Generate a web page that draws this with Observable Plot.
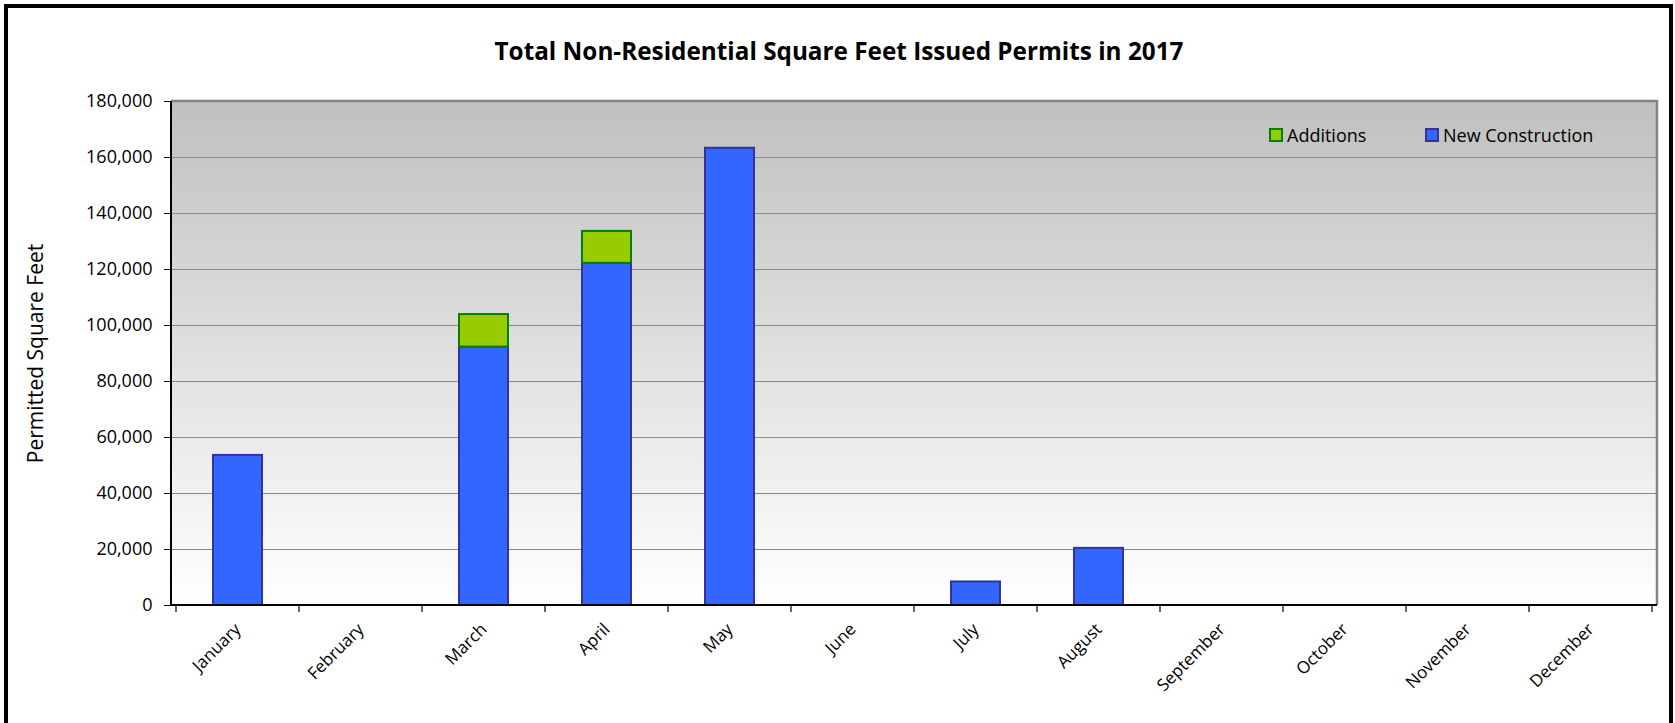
<!DOCTYPE html>
<html>
<head>
<meta charset="utf-8">
<script src="https://cdn.jsdelivr.net/npm/d3@7"></script>
<script src="https://cdn.jsdelivr.net/npm/@observablehq/plot@0.6"></script>
<style>
  html, body { margin: 0; padding: 0; background: #fff; }
  #wrap { position: relative; width: 1675px; height: 723px; overflow: hidden; font-family: "Open Sans", sans-serif; }
  #border { position: absolute; left: 4px; top: 4px; width: 1661px; height: 800px; border: 4px solid #000; pointer-events: none; }
  #title { position: absolute; left: 339px; width: 1000px; top: 35px; text-align: center; font-weight: bold; font-size: 24.3px; line-height: 32px; color: #000; }
  #legend { position: absolute; top: 123px; left: 1269px; font-size: 18px; color: #000; }
  .item { position: absolute; top: 0; white-space: nowrap; line-height: 24px; }
  .sw { display: inline-block; width: 10px; height: 10px; border: 2px solid; vertical-align: middle; margin-right: 4px; position: relative; top: -2px; }
  #chart { position: absolute; left: 0; top: 0; }
</style>
</head>
<body>
<div id="wrap">
  <div id="chart"></div>
  <div id="title"></div>
  <div id="legend"></div>
  <div id="border"></div>
</div>
<script>
const title = "Total Non-Residential Square Feet Issued Permits in 2017";
const yLabel = "Permitted Square Feet";
const months = ["January", "February", "March", "April", "May", "June", "July", "August", "September", "October", "November", "December"];
const newConstruction = [53600, 0, 92300, 122200, 163300, 0, 8400, 20400, 0, 0, 0, 0];
const additions = [0, 0, 11600, 11400, 0, 0, 0, 0, 0, 0, 0, 0];
const seriesNames = ["New Construction", "Additions"];
const seriesFill = ["#3366FF", "#99CC00"];
const seriesStroke = ["#333399", "#008000"];
const yTicks = [0, 20000, 40000, 60000, 80000, 100000, 120000, 140000, 160000, 180000];
const legendOrder = ["Additions", "New Construction"];

const rows = [];
months.forEach((m, i) => {
  rows.push({month: m, series: "New Construction", value: newConstruction[i]});
  rows.push({month: m, series: "Additions", value: additions[i]});
});
const data = rows.filter(d => d.value > 0);
const strokeOf = s => seriesStroke[seriesNames.indexOf(s)];

function frameLines(index, scales, values, dims) {
  const x = scales.x;
  const left = dims.marginLeft, right = dims.width - dims.marginRight;
  const top = dims.marginTop, bottom = dims.height - dims.marginBottom;
  const step = x(months[1]) - x(months[0]);
  const edges = months.map(m => x(m)).concat([x(months[months.length - 1]) + step]);
  const g = d3.create("svg:g");
  g.append("path").attr("d", `M${left},${top}H${right}V${bottom}`).attr("fill", "none").attr("stroke", "#858585").attr("stroke-width", 2.5);
  g.append("path").attr("d", `M${left},${top}V${bottom}H${right}`).attr("fill", "none").attr("stroke", "#000").attr("stroke-width", 2);
  g.selectAll("line.xt").data(edges).join("line")
    .attr("x1", d => d).attr("x2", d => d).attr("y1", bottom).attr("y2", bottom + 7)
    .attr("stroke", "#000").attr("stroke-width", 1.2);
  return g.node();
}

const chart = Plot.plot({
  width: 1675,
  height: 723,
  marginLeft: 171,
  marginRight: 18,
  marginTop: 101,
  marginBottom: 118,
  style: {fontFamily: "Open Sans, sans-serif", fontSize: "18px", color: "#000", background: "transparent", overflow: "visible"},
  x: {domain: months, padding: 0},
  y: {domain: [0, 180000]},
  color: {domain: seriesNames, range: seriesFill},
  marks: [
    Plot.frame({fill: "url(#bgGrad)", stroke: "none"}),
    Plot.gridY(yTicks, {stroke: "#8a8a8a", strokeOpacity: 1, strokeWidth: 1}),
    Plot.barY(data, {x: "month", y: "value", fill: "series", stroke: d => strokeOf(d.series), strokeWidth: 2, order: seriesNames, insetLeft: 37, insetRight: 37}),
    frameLines,
    Plot.axisY({ticks: yTicks, tickSize: 7, tickPadding: 12, tickFormat: d3.format(","), fontSize: 18, label: null}),
    Plot.axisY({ticks: [], tickSize: 0, fontSize: 21, label: yLabel, labelAnchor: "center", labelOffset: 143, labelArrow: "none"}),
    Plot.axisX({tickSize: 0, tickRotate: -45, tickPadding: 21, fontSize: 17, label: null})
  ]
});

const defs = d3.select(chart).insert("defs", ":first-child");
const grad = defs.append("linearGradient").attr("id", "bgGrad").attr("x1", 0).attr("y1", 0).attr("x2", 0).attr("y2", 1);
grad.append("stop").attr("offset", "0%").attr("stop-color", "#c0c0c0");
grad.append("stop").attr("offset", "100%").attr("stop-color", "#ffffff");

document.getElementById("chart").appendChild(chart);
document.getElementById("title").textContent = title;

const legend = document.getElementById("legend");
const legendX = [0, 156];
legendOrder.forEach((s, i) => {
  const k = seriesNames.indexOf(s);
  const item = document.createElement("div");
  item.className = "item";
  item.style.left = legendX[i] + "px";
  const sw = document.createElement("span");
  sw.className = "sw";
  sw.style.background = seriesFill[k];
  sw.style.borderColor = seriesStroke[k];
  item.appendChild(sw);
  item.appendChild(document.createTextNode(s));
  legend.appendChild(item);
});
</script>
</body>
</html>
